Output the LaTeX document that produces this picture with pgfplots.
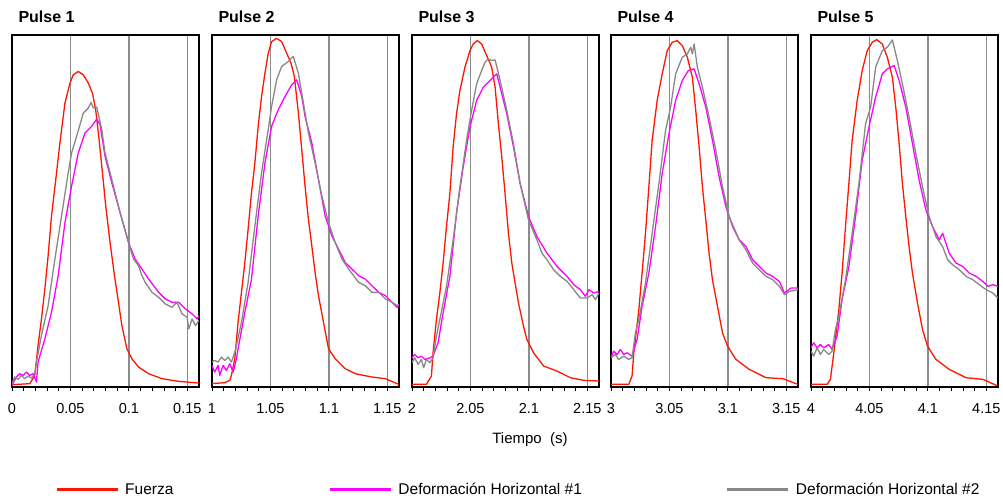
\documentclass[border=0pt]{standalone}
\usepackage{fontspec}
\setmainfont{Liberation Sans}
\usepackage{pgfplots}
\pgfplotsset{compat=1.18}
\definecolor{cFuerza}{HTML}{FF1500}
\definecolor{cDefA}{HTML}{FF00FF}
\definecolor{cDefB}{HTML}{888888}
\definecolor{cGrid}{HTML}{8C8C8C}
\pgfplotsset{
  panel/.style={
    scale only axis, width=187pt, height=352pt, anchor=south west,
    ymin=0, ymax=1060, ytick=\empty,
    axis line style={black, line width=1.3pt},
    tickpos=left, tick align=outside,
    major tick length=4pt, minor tick length=4pt,
    minor x tick num=4,
    every tick/.style={black, line width=0.8pt},
    xmajorgrids, grid style={cGrid, line width=1.4pt},
    tick label style={font=\fontsize{14.5}{16}\selectfont},
    xticklabel style={yshift=-9pt},
    /pgf/number format/assume math mode=true,
    every axis title/.style={at={(0,1)}, anchor=base west, xshift=3pt, yshift=12.5pt,
      font=\bfseries\fontsize{16}{18}\selectfont},
    every axis plot/.append style={line width=1.3pt, line join=round},
    after end axis/.code={\draw[black, line width=2.6pt] (rel axis cs:0,0) -- (rel axis cs:1,0);},
  }
}
\begin{document}
\begin{tikzpicture}
\path[use as bounding box] (0pt,0pt) rectangle (1003pt,502pt);

% Pulse 1
\begin{axis}[panel, at={(12pt,115pt)}, title={Pulse 1},
  xmin=0, xmax=0.16, xtick={0,0.05,0.1,0.15}, xticklabels={0,0.05,0.1,0.15},
  legend columns=3,
  legend style={at={(0.230,-0.2926)}, anchor=west, draw=none, fill=none,
    font=\fontsize{15.5}{17}\selectfont, inner sep=0pt,
    /tikz/every odd column/.append style={column sep=4pt},
    /tikz/column 2/.style={column sep=153pt},
    /tikz/column 4/.style={column sep=142pt}},
  legend image code/.code={\draw[#1, line width=3pt, line cap=butt] (0pt,0pt) -- (61pt,0pt);}]
\addplot[cFuerza] coordinates {(0,7) (0.0152,10) (0.0195,35) (0.0223,125) (0.0252,205) (0.0281,295) (0.0309,395) (0.0338,515) (0.0381,645) (0.0410,735) (0.0453,855) (0.0496,915) (0.0524,940) (0.0567,950) (0.0610,940) (0.0653,915) (0.0688,885) (0.0716,835) (0.0745,745) (0.0774,645) (0.0802,545) (0.0839,435) (0.0877,335) (0.0911,255) (0.0940,185) (0.0983,115) (0.1026,85) (0.1083,60) (0.1169,40) (0.1284,25) (0.1427,17) (0.1593,12) (0.16,12)};
\addlegendentry{Fuerza}
\addplot[cDefA] coordinates {(0,5) (0.0037,30) (0.0066,40) (0.0095,35) (0.0123,45) (0.0152,35) (0.0181,40) (0.0209,15) (0.0223,75) (0.0281,145) (0.0338,225) (0.0395,335) (0.0453,495) (0.0510,605) (0.0567,705) (0.0625,765) (0.0682,785) (0.0725,807) (0.0753,790) (0.0796,695) (0.0854,615) (0.0925,525) (0.0997,435) (0.1054,385) (0.1112,355) (0.1169,325) (0.1255,285) (0.1284,275) (0.1312,265) (0.1369,255) (0.1427,255) (0.1484,235) (0.1541,220) (0.1584,205) (0.1599,215)};
\addlegendentry{Deformación Horizontal \#1}
\addplot[cDefB] coordinates {(0,10) (0.0023,30) (0.0052,23) (0.0080,35) (0.0109,25) (0.0138,33) (0.0166,27) (0.0195,40) (0.0209,75) (0.0252,155) (0.0309,245) (0.0367,385) (0.0424,515) (0.0481,645) (0.0510,705) (0.0553,755) (0.0610,825) (0.0653,840) (0.0676,857) (0.0696,840) (0.0725,843) (0.0768,775) (0.0796,705) (0.0854,625) (0.0925,525) (0.0997,435) (0.1040,385) (0.1083,365) (0.1112,335) (0.1140,315) (0.1198,285) (0.1255,270) (0.1312,250) (0.1369,240) (0.1412,255) (0.1455,220) (0.1498,210) (0.1513,175) (0.1541,205) (0.1570,185) (0.1599,200)};
\addlegendentry{Deformación Horizontal \#2}
\end{axis}

% Pulse 2
\begin{axis}[panel, at={(212pt,115pt)}, title={Pulse 2},
  xmin=1, xmax=1.16, xtick={1,1.05,1.1,1.15}, xticklabels={1,1.05,1.1,1.15}]
\addplot[cFuerza] coordinates {(1.0000,10) (1.0109,13) (1.0152,20) (1.0166,35) (1.0195,85) (1.0223,195) (1.0252,285) (1.0281,375) (1.0309,475) (1.0338,585) (1.0367,675) (1.0395,785) (1.0424,875) (1.0453,945) (1.0481,1005) (1.0510,1040) (1.0553,1050) (1.0596,1040) (1.0639,1005) (1.0676,975) (1.0705,935) (1.0739,825) (1.0768,715) (1.0796,605) (1.0825,505) (1.0854,425) (1.0882,345) (1.0911,275) (1.0954,195) (1.0997,115) (1.1054,85) (1.1140,55) (1.1226,40) (1.1369,30) (1.1484,25) (1.1584,10) (1.16,8)};
\addplot[cDefA] coordinates {(1.0000,65) (1.0023,45) (1.0052,65) (1.0066,35) (1.0095,65) (1.0123,50) (1.0152,70) (1.0181,45) (1.0209,85) (1.0223,115) (1.0281,225) (1.0338,325) (1.0395,515) (1.0453,675) (1.0510,785) (1.0567,835) (1.0625,875) (1.0682,910) (1.0725,925) (1.0768,875) (1.0796,815) (1.0854,735) (1.0911,625) (1.0968,515) (1.1026,455) (1.1083,415) (1.1140,375) (1.1198,355) (1.1255,335) (1.1312,325) (1.1369,305) (1.1427,285) (1.1484,275) (1.1541,255) (1.1584,240) (1.16,245)};
\addplot[cDefB] coordinates {(1.0000,75) (1.0023,80) (1.0052,75) (1.0080,90) (1.0109,80) (1.0138,90) (1.0166,75) (1.0195,105) (1.0209,125) (1.0252,195) (1.0309,315) (1.0367,485) (1.0424,645) (1.0481,775) (1.0510,845) (1.0553,925) (1.0596,965) (1.0653,980) (1.0676,990) (1.0696,995) (1.0739,945) (1.0782,855) (1.0825,765) (1.0882,675) (1.0940,575) (1.0997,495) (1.1054,435) (1.1112,385) (1.1169,355) (1.1255,315) (1.1312,305) (1.1369,285) (1.1427,285) (1.1484,265) (1.1541,255) (1.1584,245) (1.16,250)};
\end{axis}

% Pulse 3
\begin{axis}[panel, at={(412pt,115pt)}, title={Pulse 3},
  xmin=2, xmax=2.16, xtick={2,2.05,2.1,2.15}, xticklabels={2,2.05,2.1,2.15}]
\addplot[cFuerza] coordinates {(2.0000,8) (2.0123,8) (2.0166,33) (2.0180,103) (2.0209,203) (2.0238,283) (2.0266,373) (2.0295,483) (2.0324,583) (2.0352,723) (2.0381,823) (2.0410,893) (2.0453,963) (2.0496,1013) (2.0524,1033) (2.0559,1043) (2.0596,1033) (2.0639,998) (2.0682,963) (2.0711,903) (2.0739,793) (2.0768,693) (2.0796,583) (2.0825,463) (2.0854,373) (2.0882,313) (2.0911,253) (2.0954,183) (2.0983,143) (2.1040,103) (2.1126,63) (2.1241,48) (2.1355,28) (2.1470,20) (2.1599,18)};
\addplot[cDefA] coordinates {(2.0000,88) (2.0023,98) (2.0052,88) (2.0080,93) (2.0109,83) (2.0152,88) (2.0180,93) (2.0223,133) (2.0266,223) (2.0324,333) (2.0381,523) (2.0438,663) (2.0496,783) (2.0553,863) (2.0610,903) (2.0668,923) (2.0725,943) (2.0768,883) (2.0811,823) (2.0868,723) (2.0925,613) (2.0997,513) (2.1069,453) (2.1155,403) (2.1241,363) (2.1327,333) (2.1384,308) (2.1441,293) (2.1484,273) (2.1513,293) (2.1556,283) (2.1599,288)};
\addplot[cDefB] coordinates {(2.0000,73) (2.0023,88) (2.0052,68) (2.0080,83) (2.0100,58) (2.0123,83) (2.0152,73) (2.0180,88) (2.0209,153) (2.0238,203) (2.0295,303) (2.0352,443) (2.0410,603) (2.0467,743) (2.0510,833) (2.0553,913) (2.0596,953) (2.0625,978) (2.0653,988) (2.0682,983) (2.0711,985) (2.0754,923) (2.0811,833) (2.0868,733) (2.0925,613) (2.0997,503) (2.1069,443) (2.1112,403) (2.1155,383) (2.1212,353) (2.1269,333) (2.1327,318) (2.1384,293) (2.1441,268) (2.1498,268) (2.1541,278) (2.1570,263) (2.1599,283)};
\end{axis}

% Pulse 4
\begin{axis}[panel, at={(611pt,115pt)}, title={Pulse 4},
  xmin=3, xmax=3.16, xtick={3,3.05,3.1,3.15}, xticklabels={3,3.05,3.1,3.15}]
\addplot[cFuerza] coordinates {(3.0000,8) (3.0152,8) (3.0180,33) (3.0195,103) (3.0238,233) (3.0266,343) (3.0295,463) (3.0324,603) (3.0352,743) (3.0395,863) (3.0438,943) (3.0481,1013) (3.0524,1038) (3.0567,1043) (3.0610,1028) (3.0653,993) (3.0696,933) (3.0725,833) (3.0754,723) (3.0782,603) (3.0811,503) (3.0839,403) (3.0868,323) (3.0911,243) (3.0954,163) (3.0997,123) (3.1069,83) (3.1183,53) (3.1327,28) (3.1470,25) (3.1599,8)};
\addplot[cDefA] coordinates {(3.0000,88) (3.0023,108) (3.0052,98) (3.0080,113) (3.0109,98) (3.0138,103) (3.0180,93) (3.0223,143) (3.0266,243) (3.0324,343) (3.0381,483) (3.0438,643) (3.0496,763) (3.0553,863) (3.0610,923) (3.0662,953) (3.0711,958) (3.0754,913) (3.0811,843) (3.0868,743) (3.0925,633) (3.0983,543) (3.1040,483) (3.1097,443) (3.1155,423) (3.1212,383) (3.1269,363) (3.1327,343) (3.1384,333) (3.1441,318) (3.1484,283) (3.1541,298) (3.1599,298)};
\addplot[cDefB] coordinates {(3.0000,88) (3.0037,98) (3.0066,83) (3.0109,93) (3.0152,83) (3.0180,88) (3.0209,163) (3.0238,203) (3.0295,313) (3.0352,463) (3.0410,613) (3.0467,773) (3.0510,843) (3.0553,943) (3.0610,993) (3.0653,1003) (3.0682,1023) (3.0696,1003) (3.0711,1033) (3.0739,963) (3.0782,903) (3.0839,813) (3.0897,713) (3.0954,603) (3.1011,513) (3.1097,443) (3.1155,413) (3.1212,373) (3.1269,353) (3.1327,333) (3.1384,323) (3.1441,303) (3.1484,278) (3.1527,288) (3.1599,293)};
\end{axis}

% Pulse 5
\begin{axis}[panel, at={(811pt,115pt)}, title={Pulse 5},
  xmin=4, xmax=4.16, xtick={4,4.05,4.1,4.15}, xticklabels={4,4.05,4.1,4.15}]
\addplot[cFuerza] coordinates {(4.0000,8) (4.0138,8) (4.0166,23) (4.0195,103) (4.0238,233) (4.0266,343) (4.0295,483) (4.0324,613) (4.0352,743) (4.0395,863) (4.0438,953) (4.0481,1013) (4.0524,1038) (4.0562,1046) (4.0610,1033) (4.0653,993) (4.0696,933) (4.0725,843) (4.0754,733) (4.0782,613) (4.0811,513) (4.0839,423) (4.0868,343) (4.0911,253) (4.0954,173) (4.0997,123) (4.1069,83) (4.1183,53) (4.1327,28) (4.1470,23) (4.1599,3)};
\addplot[cDefA] coordinates {(4.0000,118) (4.0023,133) (4.0052,118) (4.0080,128) (4.0109,118) (4.0152,128) (4.0180,113) (4.0223,153) (4.0266,263) (4.0324,363) (4.0381,513) (4.0438,683) (4.0496,783) (4.0553,873) (4.0610,943) (4.0653,958) (4.0711,968) (4.0754,923) (4.0811,843) (4.0868,733) (4.0925,623) (4.0983,533) (4.1040,483) (4.1097,443) (4.1126,463) (4.1183,403) (4.1241,373) (4.1298,363) (4.1355,343) (4.1413,333) (4.1470,318) (4.1513,303) (4.1556,308) (4.1599,303)};
\addplot[cDefB] coordinates {(4.0000,108) (4.0023,93) (4.0052,118) (4.0080,98) (4.0109,113) (4.0152,98) (4.0180,108) (4.0209,173) (4.0238,213) (4.0295,323) (4.0352,463) (4.0410,613) (4.0467,793) (4.0510,843) (4.0553,963) (4.0610,1013) (4.0653,1023) (4.0696,1045) (4.0739,983) (4.0782,913) (4.0839,813) (4.0897,703) (4.0954,603) (4.1011,513) (4.1069,453) (4.1126,423) (4.1169,383) (4.1212,368) (4.1269,353) (4.1327,333) (4.1384,323) (4.1441,308) (4.1498,293) (4.1556,283) (4.1599,268)};
\end{axis}

\node[font=\fontsize{15}{17}\selectfont] at (530pt,62pt) {Tiempo\ \ (s)};
\end{tikzpicture}
\end{document}
